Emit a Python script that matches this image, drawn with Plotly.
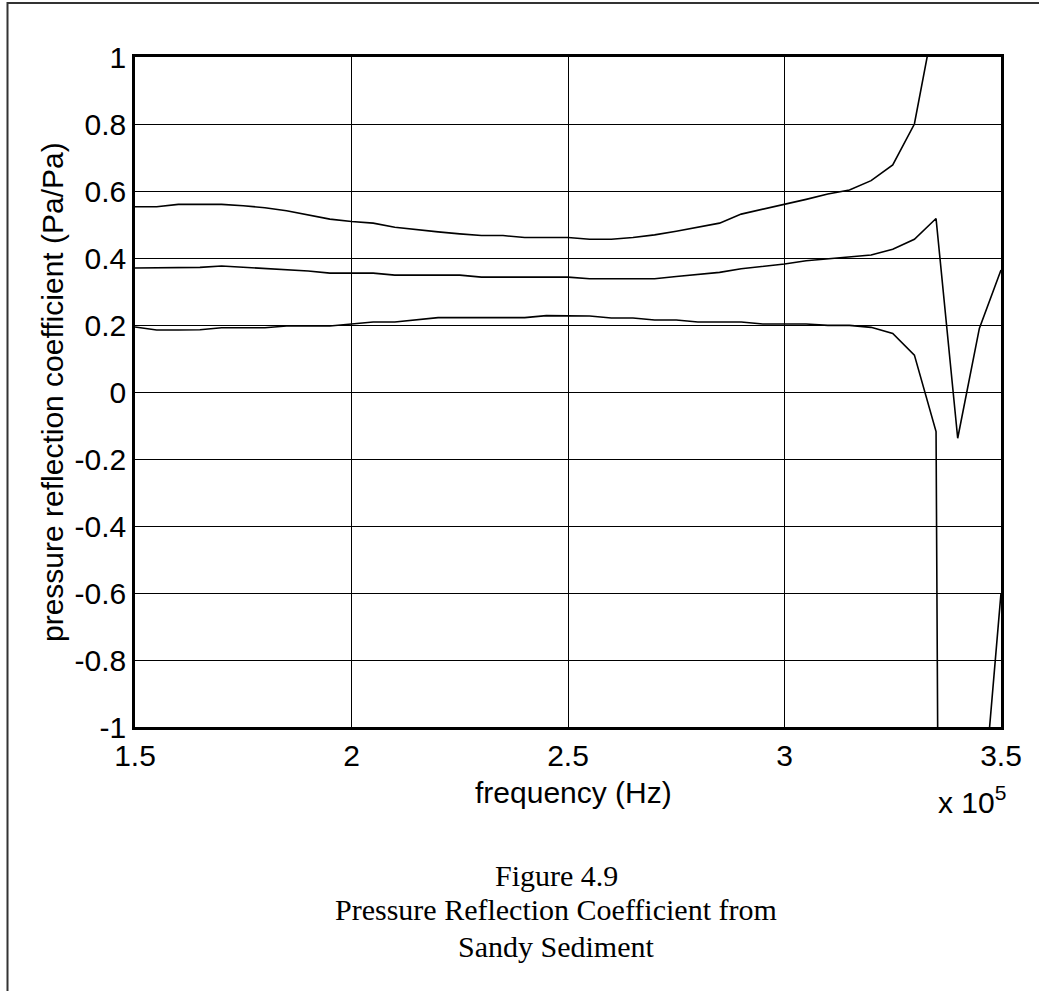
import plotly.graph_objects as go

# frequency in units of 1e5 Hz
freq_e5 = [1.50, 1.55, 1.60, 1.65, 1.70, 1.75, 1.80, 1.85, 1.90, 1.95,
           2.00, 2.05, 2.10, 2.15, 2.20, 2.25, 2.30, 2.35, 2.40, 2.45,
           2.50, 2.55, 2.60, 2.65, 2.70, 2.75, 2.80, 2.85, 2.90, 2.95,
           3.00, 3.05, 3.10, 3.15, 3.20, 3.25, 3.30, 3.35, 3.40, 3.45, 3.50]

upper = [0.553, 0.553, 0.560, 0.560, 0.560, 0.556, 0.550, 0.541, 0.528, 0.516,
         0.509, 0.504, 0.492, 0.484, 0.478, 0.472, 0.467, 0.467, 0.461, 0.461,
         0.461, 0.456, 0.456, 0.461, 0.469, 0.480, 0.492, 0.504, 0.531, 0.545,
         0.561, 0.575, 0.591, 0.603, 0.631, 0.678, 0.800, 1.14, 1.6, 2.5, 4.0]

middle = [0.370, 0.370, 0.370, 0.372, 0.376, 0.372, 0.370, 0.366, 0.361, 0.355,
          0.355, 0.355, 0.349, 0.349, 0.349, 0.349, 0.343, 0.343, 0.343, 0.343,
          0.343, 0.338, 0.338, 0.338, 0.338, 0.345, 0.351, 0.357, 0.368, 0.375,
          0.382, 0.392, 0.398, 0.404, 0.409, 0.426, 0.456, 0.518, -0.138, 0.190, 0.364]

lower = [0.194, 0.185, 0.185, 0.186, 0.192, 0.192, 0.192, 0.197, 0.197, 0.197,
         0.203, 0.209, 0.209, 0.216, 0.222, 0.222, 0.222, 0.222, 0.222, 0.228,
         0.228, 0.227, 0.221, 0.221, 0.215, 0.215, 0.209, 0.209, 0.209, 0.203,
         0.203, 0.203, 0.199, 0.199, 0.193, 0.175, 0.110, -0.118, -12.0, -1.36, -0.60]

x_ticks = [1.5, 2.0, 2.5, 3.0, 3.5]
x_tick_text = ["1.5", "2", "2.5", "3", "3.5"]
y_ticks = [1, 0.8, 0.6, 0.4, 0.2, 0, -0.2, -0.4, -0.6, -0.8, -1]
y_tick_text = ["1", "0.8", "0.6", "0.4", "0.2", "0", "-0.2", "-0.4", "-0.6", "-0.8", "-1"]

W, H = 1039, 991
L, R, T, B = 135, 1001, 57, 727
pw, ph = R - L, B - T


def px(xp):
    return (xp - L) / pw


def py(yp):
    return (B - yp) / ph


fig = go.Figure()
for ys in (upper, middle, lower):
    fig.add_trace(go.Scatter(x=freq_e5, y=ys, mode="lines",
                             line=dict(color="black", width=1.6),
                             showlegend=False, hoverinfo="skip"))

sans = "Liberation Sans, Arial, sans-serif"
serif = "Liberation Serif, Times New Roman, serif"

fig.update_layout(
    width=W, height=H,
    margin=dict(l=L, r=W - R, t=T, b=H - B, pad=0),
    paper_bgcolor="white", plot_bgcolor="white",
    font=dict(family=sans, color="black", size=30),
    xaxis=dict(range=[1.5, 3.5], tickvals=x_ticks, ticktext=x_tick_text,
               showgrid=True, gridcolor="black", gridwidth=1.2,
               showline=True, linecolor="black", linewidth=2.6, mirror=True,
               zeroline=False, ticks="", ticklabelstandoff=0,
               tickfont=dict(family=sans, size=30)),
    yaxis=dict(range=[-1, 1], tickvals=y_ticks, ticktext=y_tick_text,
               showgrid=True, gridcolor="black", gridwidth=1.2,
               showline=True, linecolor="black", linewidth=2.6, mirror=True,
               zeroline=False, ticks="", ticklabelstandoff=0,
               tickfont=dict(family=sans, size=30)),
    shapes=[dict(type="rect", xref="paper", yref="paper",
                 x0=px(7.5), x1=px(1060), y0=py(1010), y1=py(3),
                 line=dict(color="#333333", width=2), fillcolor="rgba(0,0,0,0)",
                 layer="below")],
    annotations=[
        dict(text="pressure reflection coefficient (Pa/Pa)", textangle=-90,
             xref="paper", yref="paper", x=px(52), y=py(392),
             xanchor="center", yanchor="middle", showarrow=False,
             font=dict(family=sans, size=30)),
        dict(text="frequency (Hz)", xref="paper", yref="paper",
             x=px(573), y=py(792), xanchor="center", yanchor="middle",
             showarrow=False, font=dict(family=sans, size=30)),
        dict(text="x 10<sup>5</sup>", xref="paper", yref="paper",
             x=px(972), y=py(800), xanchor="center", yanchor="middle",
             showarrow=False, font=dict(family=sans, size=30)),
        dict(text="Figure 4.9", xref="paper", yref="paper",
             x=px(556), y=py(875), xanchor="center", yanchor="middle",
             showarrow=False, font=dict(family=serif, size=30)),
        dict(text="Pressure Reflection Coefficient from", xref="paper", yref="paper",
             x=px(556), y=py(910), xanchor="center", yanchor="middle",
             showarrow=False, font=dict(family=serif, size=30)),
        dict(text="Sandy Sediment", xref="paper", yref="paper",
             x=px(556), y=py(946), xanchor="center", yanchor="middle",
             showarrow=False, font=dict(family=serif, size=30)),
    ],
)

fig.write_html("out.html")
